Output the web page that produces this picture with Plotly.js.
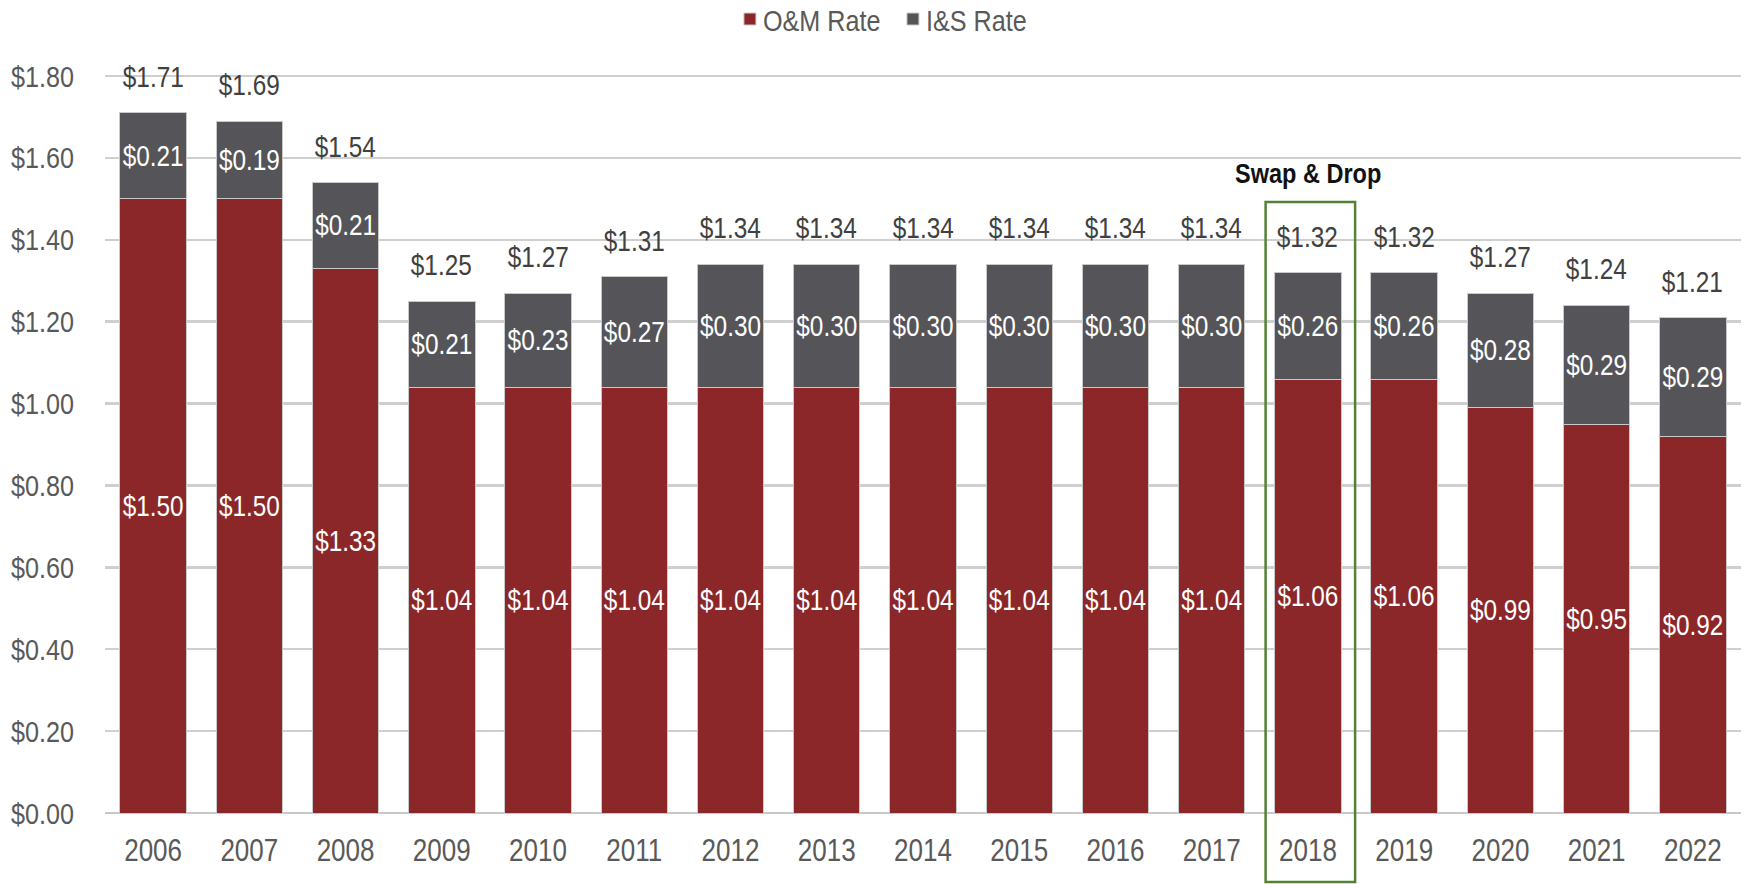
<!DOCTYPE html>
<html>
<head>
<meta charset="utf-8">
<script src="https://cdn.plot.ly/plotly-3.0.1.min.js"></script>
<style>
html,body{margin:0;padding:0;background:#fff;}
#chart{width:1748px;height:884px;}
</style>
</head>
<body>
<div id="chart"></div>
<script>
const years = ['2006','2007','2008','2009','2010','2011','2012','2013','2014','2015','2016','2017','2018','2019','2020','2021','2022'];
const omRate = [1.50,1.50,1.33,1.04,1.04,1.04,1.04,1.04,1.04,1.04,1.04,1.04,1.06,1.06,0.99,0.95,0.92];
const isRate = [0.21,0.19,0.21,0.21,0.23,0.27,0.30,0.30,0.30,0.30,0.30,0.30,0.26,0.26,0.28,0.29,0.29];
const totals = [1.71,1.69,1.54,1.25,1.27,1.31,1.34,1.34,1.34,1.34,1.34,1.34,1.32,1.32,1.27,1.24,1.21];
const highlightYear = '2018';
const highlightLabel = 'Swap & Drop';

const FONT = '"Liberation Sans",Arial,sans-serif';
const RED = '#8C2729';
const GRAY = '#555559';
const idx = years.map((_, i) => i);

const traces = [
  {
    type: 'bar', name: 'O&M Rate', x: idx, y: omRate,
    marker: {color: RED, line: {color: '#C9C9C9', width: 1}},
    text: omRate.map(v => '$' + v.toFixed(2)),
    texttemplate: '%{text}', textangle: 0,
    textposition: 'inside', insidetextanchor: 'middle', constraintext: 'none',
    textfont: {color: '#FFFFFF', size: 29, family: FONT},
    hoverinfo: 'skip'
  },
  {
    type: 'bar', name: 'I&S Rate', x: idx, y: isRate,
    marker: {color: GRAY, line: {color: '#C9C9C9', width: 1}},
    text: isRate.map(v => '$' + v.toFixed(2)),
    texttemplate: '%{text}', textangle: 0,
    textposition: 'inside', insidetextanchor: 'middle', constraintext: 'none',
    textfont: {color: '#FFFFFF', size: 29, family: FONT},
    hoverinfo: 'skip'
  }
];

const annotations = idx.map(i => ({
  x: i, y: totals[i], xref: 'x', yref: 'y',
  text: '$' + totals[i].toFixed(2), showarrow: false,
  yanchor: 'middle', yshift: 36,
  font: {color: '#404040', size: 29, family: FONT}
}));
const hi = years.indexOf(highlightYear);
annotations.push({
  x: hi, y: 1.563, xref: 'x', yref: 'y',
  text: '<b>' + highlightLabel + '</b>', showarrow: false,
  yanchor: 'middle',
  font: {color: '#111111', size: 28, family: FONT}
});

const layout = {
  width: 1748, height: 884,
  margin: {l: 105, r: 7, t: 74, b: 71, autoexpand: false},
  paper_bgcolor: '#FFFFFF', plot_bgcolor: '#FFFFFF',
  barmode: 'stack', bargap: 0.31,
  font: {family: FONT, color: '#595959'},
  showlegend: true,
  legend: {
    orientation: 'h', x: 0.382, xanchor: 'left', y: 1.0744, yanchor: 'middle',
    font: {size: 30, color: '#595959', family: FONT}, traceorder: 'normal',
    itemwidth: 30, entrywidth: 118, entrywidthmode: 'pixels'
  },
  xaxis: {
    range: [-0.5, years.length - 0.5], tickmode: 'array', tickvals: idx, ticktext: years,
    tickfont: {size: 31, color: '#595959', family: FONT},
    ticks: 'outside', ticklen: 10, tickcolor: 'rgba(0,0,0,0)',
    showgrid: false, showline: false, zeroline: false, fixedrange: true
  },
  yaxis: {
    range: [0, 1.805], dtick: 0.2, tick0: 0, tickprefix: '$', tickformat: '.2f',
    tickfont: {size: 30, color: '#595959', family: FONT},
    ticks: 'outside', ticklen: 24, tickcolor: 'rgba(0,0,0,0)',
    showgrid: true, gridcolor: '#CFCFCF', gridwidth: 2.5,
    zeroline: true, zerolinecolor: '#C8C8C8', zerolinewidth: 2.5,
    showline: false, fixedrange: true
  },
  annotations: annotations,
  shapes: [{
    type: 'rect', xref: 'x', yref: 'paper',
    x0: hi - 0.44, x1: hi + 0.49, y0: -0.0934, y1: 0.8268,
    line: {color: '#548235', width: 2.5}, fillcolor: 'rgba(0,0,0,0)', layer: 'above'
  }]
};

// Horizontally condense text (reference uses a narrow face) while keeping it real text.
function condense(gd, s) {
  gd.querySelectorAll('svg text').forEach(t => {
    if (t.getAttribute('data-cond')) return;
    const bb = t.getBBox();
    const anchor = t.getAttribute('text-anchor') || getComputedStyle(t).textAnchor || 'start';
    const cx = anchor === 'end' ? bb.x + bb.width : (anchor === 'middle' ? bb.x + bb.width / 2 : bb.x);
    const isLegend = !!t.closest('.legendtext') || t.classList.contains('legendtext');
    const shift = isLegend ? -7 : 0;
    const tr = t.getAttribute('transform') || '';
    t.setAttribute('transform', (tr + ' translate(' + (cx + shift) + ',0) scale(' + s + ',1) translate(' + (-cx) + ',0)').trim());
    t.setAttribute('data-cond', '1');
  });
}

Plotly.newPlot('chart', traces, layout, {staticPlot: true, displayModeBar: false}).then(gd => condense(gd, 0.84));
</script>
</body>
</html>
